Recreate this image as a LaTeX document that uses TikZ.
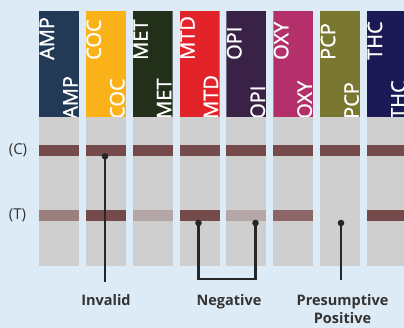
\documentclass[tikz,border=0pt]{standalone}
\usepackage{fontspec}
\setmainfont{Open Sans}
\newfontfamily\stripfont[FakeBold=1.2]{Open Sans}
\definecolor{bg}{HTML}{DDEBF6}
\definecolor{sgray}{HTML}{CFCFCF}
\definecolor{cband}{HTML}{744A4B}
\definecolor{tAMP}{HTML}{9B7F7D}
\definecolor{tMET}{HTML}{B4A6A6}
\definecolor{tOPI}{HTML}{B5A7A7}
\definecolor{tOXY}{HTML}{8C6567}
\definecolor{cAMP}{HTML}{223A55}
\definecolor{cCOC}{HTML}{FBB118}
\definecolor{cMET}{HTML}{22301A}
\definecolor{cMTD}{HTML}{E2232A}
\definecolor{cOPI}{HTML}{3A2146}
\definecolor{cOXY}{HTML}{B3306A}
\definecolor{cPCP}{HTML}{797730}
\definecolor{cTHC}{HTML}{1C1A55}
\definecolor{txt}{HTML}{333333}
\begin{document}
\begin{tikzpicture}[x=1pt,y=-1pt,
  striplab/.style={text=white, font=\stripfont\fontsize{20}{20}\selectfont, rotate=90, anchor=base west, inner sep=0pt},
  lineLab/.style={text=txt, font=\fontsize{15}{15}\selectfont, inner sep=0pt},
  res/.style={text=txt, font=\fontsize{14.5}{18}\selectfont\bfseries, inner sep=0pt, align=center},
  dot/.style={circle, fill=black!85, inner sep=0pt, minimum size=6.6pt},
  conn/.style={draw=black!85, line width=2.3pt}]
\useasboundingbox (0,0) rectangle (404,328);
\clip (0,0) rectangle (404,328);
\fill[bg] (0,0) rectangle (404,328);
\foreach \i/\lab/\tcol in {0/AMP/tAMP,1/COC/cband,2/MET/tMET,3/MTD/cband,4/OPI/tOPI,5/OXY/tOXY,6/PCP/sgray,7/THC/cband} {
  \pgfmathsetmacro\xl{39+46.86*\i}
  \begin{scope}
    \clip (\xl,11) rectangle ++(40,106);
    \fill[fill=c\lab] (\xl,11) rectangle ++(40,106);
    \node[striplab] (up\i) at (\xl+15,60) {\lab};
    \node[striplab] (lo\i) at (\xl+38.5,119) {\lab};
  \end{scope}
  \fill[sgray] (\xl,117) rectangle ++(40,149);
  \fill[cband] (\xl,145) rectangle ++(40,10.7);
  \fill[fill=\tcol] (\xl,210) rectangle ++(40,10.7);
}
\node[lineLab] (lc) at (18,150) {(C)};
\node[lineLab] (lt) at (17.5,215) {(T)};
\node[dot] (dInv) at (105,156.3) {};
\node[dot] (dNeg1) at (198.5,223) {};
\node[dot] (dNeg2) at (255.5,223) {};
\node[dot] (dPos) at (341,223) {};
\coordinate (eInv) at (105,282);
\coordinate (bNeg1) at (198.5,279);
\coordinate (bNeg2) at (255.5,279);
\coordinate (ePos) at (341,280);
\draw[conn] (dInv.center) -- (eInv);
\draw[conn] (dNeg1.center) -- (bNeg1) -- (bNeg2) -- (dNeg2.center);
\draw[conn] (dPos.center) -- (ePos);
\node[res, anchor=base] (lInv) at (106,306) {Invalid};
\node[res, anchor=base] (lNeg) at (229,306) {Negative};
\node[res, anchor=north] (lPos) at (342.5,294.3) {Presumptive\\Positive};
\end{tikzpicture}
\end{document}
